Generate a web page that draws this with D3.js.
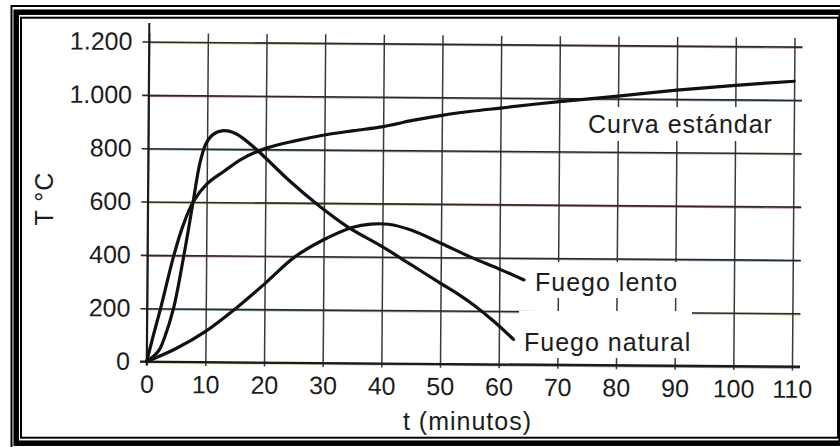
<!DOCTYPE html>
<html>
<head>
<meta charset="utf-8">
<title>Curvas de fuego</title>
<script src="https://cdn.jsdelivr.net/npm/d3@7/dist/d3.min.js"></script>
<style>
  body { margin: 0; background: #fff; }
  text { font-family: "Liberation Sans", Arial, sans-serif; fill: #1c1c1c; }
</style>
</head>
<body>
<script>
// ---- data ----
var xTicks = [0, 10, 20, 30, 40, 50, 60, 70, 80, 90, 100, 110];
var yTicks = [0, 200, 400, 600, 800, 1000, 1200];

// [t (min), T (°C)]
var curvaEstandar = [[0,0],[1,90],[2.3,200],[4.5,400],[6,510],[7.7,600],[10,667],[13,717],[16,763],
  [20,803],[25,832],[30,855],[35,872],[40,888],[45,912],[50,932],[55,948],[60,961],[70,987],
  [80,1009],[90,1033],[100,1053],[110,1070]];
var fuegoNatural = [[0,0],[2,40],[3,90],[4.5,200],[6.2,400],[7.7,600],[8.8,745],[9.8,818],
  [11,853],[12.8,868],[15,856],[18.2,803],[20,767],[24,684],[29,592],[34,512],[40,438],[45,370],
  [50,302],[53,262],[56,216],[59,163],[62.5,94]];
var fuegoLento = [[0,0],[5,50],[10,115],[15,200],[20,295],[25,395],[30,462],[35,510],
  [38,522],[41,522],[45,500],[50,452],[55,402],[60,357],[64.2,317]];

var labels = [
  {text: "Curva estándar", x: 588, y: 133, box: [583, 107, 194, 34]},
  {text: "Fuego lento", x: 535, y: 291, box: [530, 262, 152, 36]},
  {text: "Fuego natural", x: 524, y: 351, box: [519, 311, 173, 47]}
];
// colour fringes of the scanned grid lines (left -> right)
var gridTint = {0: ["#d8cf70", "#8a70b0"], 200: ["#4f9ccc", "#b9b060"], 400: ["#c0607a", "#4f9ccc"],
  600: ["#c8c060", "#c0607a"], 800: ["#4f9ccc", "#b0a868"], 1000: ["#b04a6a", "#4f9ccc"],
  1200: ["#b8b868", "#c07a90"]};

var width = 840, height = 447;
var x = d3.scaleLinear().domain([0, 110]).range([146.7, 792]);
var y = d3.scaleLinear().domain([0, 1200]).range([361.6, 41.6]);
var tilt = "rotate(0.44," + x(0) + "," + y(0) + ")";

var svg = d3.select("body").append("svg")
  .attr("width", width).attr("height", height);

svg.append("rect").attr("width", width).attr("height", height).attr("fill", "#fff");

// frame
svg.append("rect").attr("x", 11.5).attr("y", 6).attr("width", 840).attr("height", 450)
  .attr("fill", "none").attr("stroke", "#000").attr("stroke-width", 2);
svg.append("rect").attr("x", 16.2).attr("y", 12.2).attr("width", 825).attr("height", 431)
  .attr("fill", "none").attr("stroke", "#000").attr("stroke-width", 5.5);
svg.append("rect").attr("x", 21).attr("y", 17.7).attr("width", 817).attr("height", 420)
  .attr("fill", "none").attr("stroke", "#000").attr("stroke-width", 2);

var defs = svg.append("defs");
yTicks.forEach(function(v) {
  var g = defs.append("linearGradient").attr("id", "tint" + v)
    .attr("gradientUnits", "userSpaceOnUse")
    .attr("x1", 140).attr("x2", 800).attr("y1", 0).attr("y2", 0);
  g.append("stop").attr("offset", 0).attr("stop-color", gridTint[v][0]);
  g.append("stop").attr("offset", 1).attr("stop-color", gridTint[v][1]);
});

var plot = svg.append("g").attr("transform", tilt);

// tinted companions of the horizontal grid
plot.selectAll("line.tint").data(yTicks).enter().append("line")
  .attr("class", "tint")
  .attr("x1", 146).attr("x2", 800)
  .attr("y1", function(d) { return y(d) + 1.3; })
  .attr("y2", function(d) { return y(d) + 1.3; })
  .attr("stroke", function(d) { return "url(#tint" + d + ")"; })
  .attr("stroke-width", 1.6).attr("opacity", 0.8);

// x axis + vertical grid
var xAxis = d3.axisBottom(x).tickValues(xTicks)
  .tickSize(-(y(0) + 4 - 33)).tickPadding(9.5);
var gx = plot.append("g").attr("transform", "translate(0," + (y(0) + 4) + ")").call(xAxis);
gx.select(".domain").remove();
gx.selectAll(".tick line").attr("stroke", "#3a3a3a").attr("stroke-width", 1.5);
gx.selectAll(".tick text").attr("font-size", 25).attr("fill", "#1c1c1c")
  .attr("font-family", "Liberation Sans, Arial, sans-serif");

// y axis + horizontal grid
var yAxis = d3.axisLeft(y).tickValues(yTicks)
  .tickSize(-(800 - 140)).tickPadding(10)
  .tickFormat(function(d) { return d3.format(",")(d).replace(",", "."); });
var gy = plot.append("g").attr("transform", "translate(140,0)").call(yAxis);
gy.select(".domain").remove();
gy.selectAll(".tick line").attr("stroke", "#2a2a2a").attr("stroke-width", 1.6);
gy.selectAll(".tick text").attr("font-size", 25).attr("fill", "#1c1c1c")
  .attr("font-family", "Liberation Sans, Arial, sans-serif");

// main axis lines
plot.append("line").attr("x1", x(0)).attr("x2", x(0)).attr("y1", 23).attr("y2", y(0) + 4)
  .attr("stroke", "#1a1a1a").attr("stroke-width", 2);
plot.append("line").attr("x1", 140).attr("x2", 800).attr("y1", y(0)).attr("y2", y(0))
  .attr("stroke", "#1a1a1a").attr("stroke-width", 2);

// axis titles
svg.append("text").attr("x", 467.5).attr("y", 430).attr("text-anchor", "middle")
  .attr("font-size", 25).attr("letter-spacing", 1).text("t (minutos)");
svg.append("text").attr("transform", "translate(53,198.5) rotate(-90)")
  .attr("text-anchor", "middle").attr("font-size", 25).attr("letter-spacing", 1).text("T °C");

// curve labels on white patches
var lab = svg.selectAll("g.lab").data(labels).enter().append("g").attr("class", "lab");
lab.append("rect")
  .attr("x", function(d) { return d.box[0]; }).attr("y", function(d) { return d.box[1]; })
  .attr("width", function(d) { return d.box[2]; }).attr("height", function(d) { return d.box[3]; })
  .attr("fill", "#fff");
lab.append("text").attr("x", function(d) { return d.x; }).attr("y", function(d) { return d.y; })
  .attr("font-size", 25).attr("letter-spacing", 1).text(function(d) { return d.text; });

// curves
var line = d3.line()
  .x(function(d) { return x(d[0]); })
  .y(function(d) { return y(d[1]); })
  .curve(d3.curveCatmullRom.alpha(0.5));

var curves = svg.append("g").attr("transform", tilt);
[curvaEstandar, fuegoNatural, fuegoLento].forEach(function(s) {
  curves.append("path").datum(s).attr("d", line)
    .attr("fill", "none").attr("stroke", "#111").attr("stroke-width", 3.2)
    .attr("stroke-linecap", "round").attr("stroke-linejoin", "round");
});
</script>
</body>
</html>
